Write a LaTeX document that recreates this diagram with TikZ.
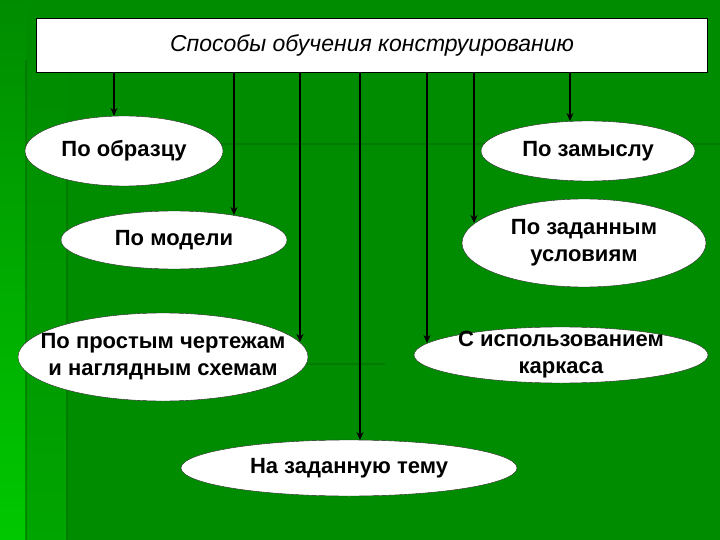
\documentclass[tikz,border=0pt]{standalone}
\usepackage{fontspec}
\setmainfont{Liberation Sans}
\usetikzlibrary{shapes.geometric, arrows.meta, positioning}
\definecolor{bgMain}{RGB}{0,140,0}
\definecolor{bgMid}{RGB}{0,165,0}
\definecolor{bgLeft}{RGB}{0,200,0}
\definecolor{bgLine}{RGB}{0,110,0}
\tikzset{
    >={Stealth[length=8pt, width=7pt]},
    % Shapes
    head/.style={rectangle, draw=black, thin, fill=white,
                 minimum width=671pt, minimum height=54pt,
                 font=\fontsize{23}{27}\selectfont\itshape},
    way/.style={ellipse, draw=black!85, thin, fill=white, inner sep=0pt,
                align=center, font=\fontsize{22}{27}\selectfont\bfseries},
    tight/.style={inner xsep=-30pt, inner ysep=-14pt},
    % Flow & decor
    flow/.style={->, line width=2pt, black},
    deco/.style={line width=2.5pt, bgLine, opacity=0.6}
}

\begin{document}
\begin{tikzpicture}[x=1pt, y=-1pt]

% background
\useasboundingbox (0,0) rectangle (720,540);
\fill[bgMain] (0,0) rectangle (720,540);
\shade[top color=bgMain, bottom color=bgLeft] (0,0) rectangle (26,540);
\shade[top color=bgMain, bottom color=bgMid] (26,60) rectangle (67,540);
\draw[deco] (26,60) -- (26,540);
\draw[deco] (67,144) -- (67,540);
\draw[deco] (67,144) -- (720,144);
\draw[deco] (305,364) -- (385,364);

\node[head] (title) at (372,45) {Способы обучения конструированию};

\node[way, minimum width=198pt, minimum height=70pt] (obr) at (124,151) {По образцу};
\node[way, minimum width=226pt, minimum height=58pt] (mod) at (174,240) {По модели};
\node[way, tight, minimum width=290pt, minimum height=88pt] (cher) at (163,357) {По простым чертежам\\и наглядным схемам};
\node[way, minimum width=336pt, minimum height=56pt] (tema) at (349,468) {На заданную тему};
\node[way, minimum width=214pt, minimum height=60pt] (zam) at (588,151) {По замыслу};
\node[way, tight, minimum width=244pt, minimum height=88pt] (usl) at (584,243) {По заданным\\условиям};
\node[way, tight, minimum width=294pt, minimum height=56pt] (kar) at (561,355) {С использованием\\каркаса};

% arrow ends on the ellipses
\coordinate (t1) at (114,116);
\coordinate (t2) at (234,215);
\coordinate (t3) at (300,342);
\coordinate (t4) at (360,440);
\coordinate (t5) at (427,343);
\coordinate (t6) at (474,223);
\coordinate (t7) at (570,121);

\draw[flow] (title.south -| t1) -- (t1);
\draw[flow] (title.south -| t2) -- (t2);
\draw[flow] (title.south -| t3) -- (t3);
\draw[flow] (title.south -| t4) -- (t4);
\draw[flow] (title.south -| t5) -- (t5);
\draw[flow] (title.south -| t6) -- (t6);
\draw[flow] (title.south -| t7) -- (t7);

\end{tikzpicture}
\end{document}
